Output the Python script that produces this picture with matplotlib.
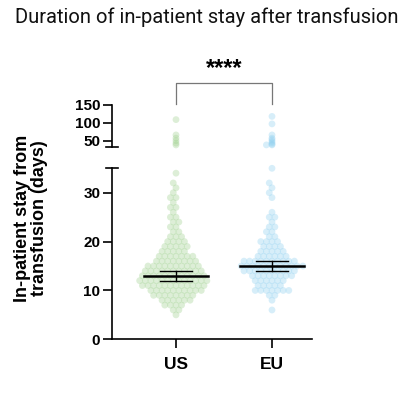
"""
Duration of in-patient stay after transfusion: US vs EU scatter with a
broken y axis (GraphPad style).
"""

import matplotlib.pyplot as plt
import numpy
from matplotlib.lines import Line2D

# Values (days), lower segment as day -> count
us_days = [5, 6, 7, 8, 9, 10, 11, 12, 13, 14, 15, 16, 17, 18, 19, 20,
           21, 22, 23, 24, 25, 26, 27, 28, 29, 30, 31, 32, 34]
us_counts = [1, 2, 4, 6, 8, 10, 12, 13, 12, 11, 10, 8, 7, 5, 5, 4,
             3, 2, 2, 2, 2, 1, 2, 1, 2, 1, 1, 1, 1]
us_high = [38, 43, 50, 57, 66, 109]

eu_days = [6, 8, 9, 10, 11, 12, 13, 14, 15, 16, 17, 18, 19, 20, 21, 22,
           23, 24, 25, 26, 29, 30, 31, 32, 35]
eu_counts = [1, 1, 2, 7, 5, 6, 8, 10, 12, 10, 6, 5, 4, 4, 2, 2,
             2, 1, 2, 1, 1, 1, 1, 1, 1]
eu_high = [38, 38, 40, 44, 48, 53, 57, 66, 97, 118]

groups = ["US", "EU"]
centre = [13, 15]
err_low = [12, 14]
err_high = [14, 16]

colors = ["#9fd18f", "#8fd0f0"]

W, H = 416, 398
px_per_unit_x = 96.0  # pixels between the two groups


def swarm(values, px_per_unit, d=5.6):
    """Simple beeswarm: returns x offsets in pixels for each value."""
    values = numpy.asarray(values, dtype=float)
    order = numpy.argsort(values)
    placed = []
    offsets = numpy.zeros(len(values))
    for i in order:
        y = values[i]*px_per_unit
        cands = [0.0]
        for (px, py) in placed:
            dy = y - py
            if abs(dy) < d:
                dx = numpy.sqrt(d*d - dy*dy)
                cands += [px + dx, px - dx]
        cands.sort(key=lambda c: (abs(c), c))
        for c in cands:
            ok = True
            for (px, py) in placed:
                if (c - px)**2 + (y - py)**2 < d*d - 1e-6:
                    ok = False
                    break
            if ok:
                offsets[i] = c
                placed.append((c, y))
                break
    return offsets


fig = plt.figure(figsize=(W/100, H/100), dpi=100)
x_left, x_right = 112, 312
lim_x = (-64/px_per_unit_x, 1 + (x_right - 272)/px_per_unit_x)

ax_lo = fig.add_axes([x_left/W, (H - 339.3)/H, (x_right - x_left)/W, 171/H])
ax_hi = fig.add_axes([x_left/W, (H - 146.7)/H, (x_right - x_left)/W, 41.7/H])

lo_px = 171/35.0
hi_px = 41.7/(150 - 33.0)

tick_font = dict(family="Liberation Sans", weight="bold")

for k, (days, counts, high) in enumerate([(us_days, us_counts, us_high),
                                           (eu_days, eu_counts, eu_high)]):
    low_vals = numpy.repeat(days, counts)
    off = swarm(low_vals, lo_px)
    ax_lo.scatter(k + off/px_per_unit_x, low_vals, s=24, color=colors[k],
                  alpha=0.35, edgecolors="none", clip_on=False, zorder=2)
    off = swarm(high, hi_px*12)
    ax_hi.scatter(k + off/px_per_unit_x, high, s=24, color=colors[k],
                  alpha=0.35, edgecolors="none", clip_on=False, zorder=2)
    # mean line and error bar
    ax_lo.plot([k - 0.33, k + 0.33], [centre[k]]*2, color="black", lw=1.8, zorder=3)
    ax_lo.plot([k, k], [err_low[k], err_high[k]], color="black", lw=1.0, zorder=3)
    for e in (err_low[k], err_high[k]):
        ax_lo.plot([k - 0.167, k + 0.167], [e, e], color="black", lw=1.0, zorder=3)

ax_lo.set_xlim(*lim_x)
ax_hi.set_xlim(*lim_x)
ax_lo.set_ylim(0, 35)
ax_hi.set_ylim(33, 150)

ax_lo.set_yticks([0, 10, 20, 30])
ax_hi.set_yticks([50, 100, 150])
ax_lo.set_xticks([0, 1])
ax_lo.set_xticklabels(groups, fontsize=12.5, **tick_font)
ax_hi.set_xticks([])

for ax in (ax_lo, ax_hi):
    ax.patch.set_alpha(0)
    ax.spines["top"].set_visible(False)
    ax.spines["right"].set_visible(False)
    for s in ax.spines.values():
        s.set_linewidth(1.2)
    ax.tick_params(axis="y", length=6.5, width=1.2, pad=2, labelsize=11)
    ax.tick_params(axis="x", length=6.5, width=1.2, pad=6)
    for lab in ax.get_yticklabels():
        lab.set_fontfamily("Liberation Sans")
        lab.set_fontweight("bold")
ax_hi.spines["bottom"].set_visible(False)

# break caps on the y axis
for y in (168.3, 146.7):
    fig.add_artist(Line2D([106/W, 118/W], [(H - y)/H]*2, color="black", lw=1.2))

# significance bracket
ax_hi.plot([0, 0, 1, 1], [153, 212, 212, 153], color="#777777", lw=0.9,
           clip_on=False)
fig.text((176 + 272)/2/W, (H - 80)/H, "****", ha="center", va="bottom",
         fontsize=17, **tick_font)

fig.text(31/W, (H - 218)/H, "In-patient stay from\ntransfusion (days)",
         rotation=90, ha="center", va="center", fontsize=13,
         linespacing=1.0, **tick_font)

fig.text(207/W, (H - 17)/H, "Duration of in-patient stay after transfusion",
         ha="center", va="center", fontsize=14.5, family="Roboto",
         color="#111111")

plt.savefig("out.png", dpi=100)
